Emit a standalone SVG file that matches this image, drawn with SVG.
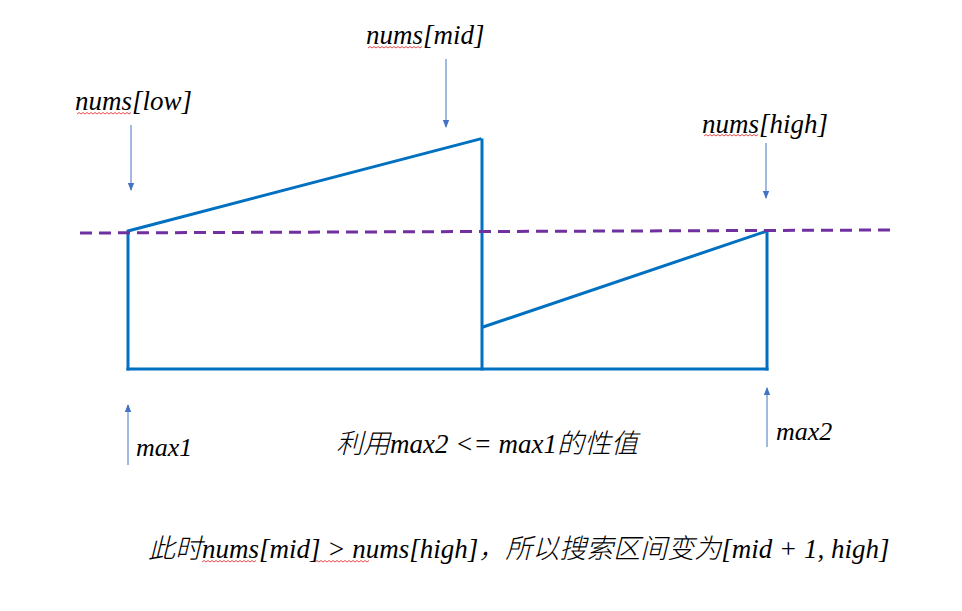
<svg xmlns="http://www.w3.org/2000/svg" width="962" height="611" viewBox="0 0 962 611">
  <defs>
    <marker id="ah" markerWidth="8" markerHeight="8" refX="7" refY="4" orient="auto" markerUnits="userSpaceOnUse">
      <path d="M0,0.8 L8,4 L0,7.2 Z" fill="#4472C4"/>
    </marker>
  </defs>
  <style>
    .b { fill: none; stroke: #0070C0; stroke-width: 3; stroke-linecap: square; }
    .d { fill: none; stroke: #7030A0; stroke-width: 3; stroke-dasharray: 12 7; }
    .a { fill: none; stroke: #4472C4; stroke-width: 1; marker-end: url(#ah); }
    .w { fill: none; stroke: #E02020; stroke-width: 0.8; }
  </style>
  <rect width="962" height="611" fill="#fff"/>

  <g id="shape">
    <polyline class="b" points="128,369 128,231 480,139"/>
    <line class="b" x1="482" y1="140" x2="482" y2="369"/>
    <line class="b" x1="128" y1="369" x2="767" y2="369"/>
    <polyline class="b" points="483,327 767,231 767,369"/>
  </g>

  <g id="threshold">
    <line class="d" x1="80" y1="233" x2="890" y2="230"/>
  </g>

  <g id="connectors">
    <line class="a" x1="131" y1="125" x2="131" y2="190"/>
    <line class="a" x1="446" y1="59" x2="446" y2="127"/>
    <line class="a" x1="766" y1="143" x2="766" y2="198"/>
    <line class="a" x1="128" y1="465" x2="128" y2="405"/>
    <line class="a" x1="767" y1="447" x2="767" y2="388"/>
  </g>

  <g id="labels" font-family="Liberation Serif, serif" font-style="italic" font-size="27" fill="#000">
    <g id="label-low">
      <text x="75" y="110">nums[low]</text>
      <path class="w" d="M77,114 l2,-1.5 l2,1.5 l2,-1.5 l2,1.5 l2,-1.5 l2,1.5 l2,-1.5 l2,1.5 l2,-1.5 l2,1.5 l2,-1.5 l2,1.5 l2,-1.5 l2,1.5 l2,-1.5 l2,1.5 l2,-1.5 l2,1.5 l2,-1.5 l2,1.5 l2,-1.5 l2,1.5 l2,-1.5 l2,1.5 l2,-1.5 l2,1.5 l2,-1.5"/>
    </g>
    <g id="label-mid">
      <text x="366" y="44">nums[mid]</text>
      <path class="w" d="M368,48 l2,-1.5 l2,1.5 l2,-1.5 l2,1.5 l2,-1.5 l2,1.5 l2,-1.5 l2,1.5 l2,-1.5 l2,1.5 l2,-1.5 l2,1.5 l2,-1.5 l2,1.5 l2,-1.5 l2,1.5 l2,-1.5 l2,1.5 l2,-1.5 l2,1.5 l2,-1.5 l2,1.5 l2,-1.5 l2,1.5 l2,-1.5 l2,1.5 l2,-1.5"/>
    </g>
    <g id="label-high">
      <text x="702" y="133">nums[high]</text>
      <path class="w" d="M704,136 l2,-1.5 l2,1.5 l2,-1.5 l2,1.5 l2,-1.5 l2,1.5 l2,-1.5 l2,1.5 l2,-1.5 l2,1.5 l2,-1.5 l2,1.5 l2,-1.5 l2,1.5 l2,-1.5 l2,1.5 l2,-1.5 l2,1.5 l2,-1.5 l2,1.5 l2,-1.5 l2,1.5 l2,-1.5 l2,1.5 l2,-1.5 l2,1.5 l2,-1.5"/>
    </g>
    <g id="label-max1">
      <text x="136" y="456" font-size="26">max1</text>
    </g>
    <g id="label-max2">
      <text x="776" y="440" font-size="26">max2</text>
    </g>
    <g id="label-property">
      <text x="336" y="453"><tspan font-family="Noto Sans CJK SC, sans-serif" font-weight="300">利用</tspan>max2 &lt;= max1<tspan font-family="Noto Sans CJK SC, sans-serif" font-weight="300">的性值</tspan></text>
    </g>
    <g id="label-conclusion">
      <text x="148" y="558"><tspan font-family="Noto Sans CJK SC, sans-serif" font-weight="300">此时</tspan>nums[mid] &gt; nums[high]<tspan font-family="Noto Sans CJK SC, sans-serif" font-weight="300">，所以搜索区间变为</tspan>[mid + 1, high]</text>
      <path class="w" d="M202,562 l2,-1.5 l2,1.5 l2,-1.5 l2,1.5 l2,-1.5 l2,1.5 l2,-1.5 l2,1.5 l2,-1.5 l2,1.5 l2,-1.5 l2,1.5 l2,-1.5 l2,1.5 l2,-1.5 l2,1.5 l2,-1.5 l2,1.5 l2,-1.5 l2,1.5 l2,-1.5 l2,1.5 l2,-1.5 l2,1.5 l2,-1.5 l2,1.5 l2,-1.5"/>
      <path class="w" d="M315,562 l2,-1.5 l2,1.5 l2,-1.5 l2,1.5 l2,-1.5 l2,1.5 l2,-1.5 l2,1.5 l2,-1.5 l2,1.5 l2,-1.5 l2,1.5 l2,-1.5 l2,1.5 l2,-1.5 l2,1.5 l2,-1.5 l2,1.5 l2,-1.5 l2,1.5 l2,-1.5 l2,1.5 l2,-1.5 l2,1.5 l2,-1.5 l2,1.5 l2,-1.5"/>
    </g>
  </g>
</svg>
